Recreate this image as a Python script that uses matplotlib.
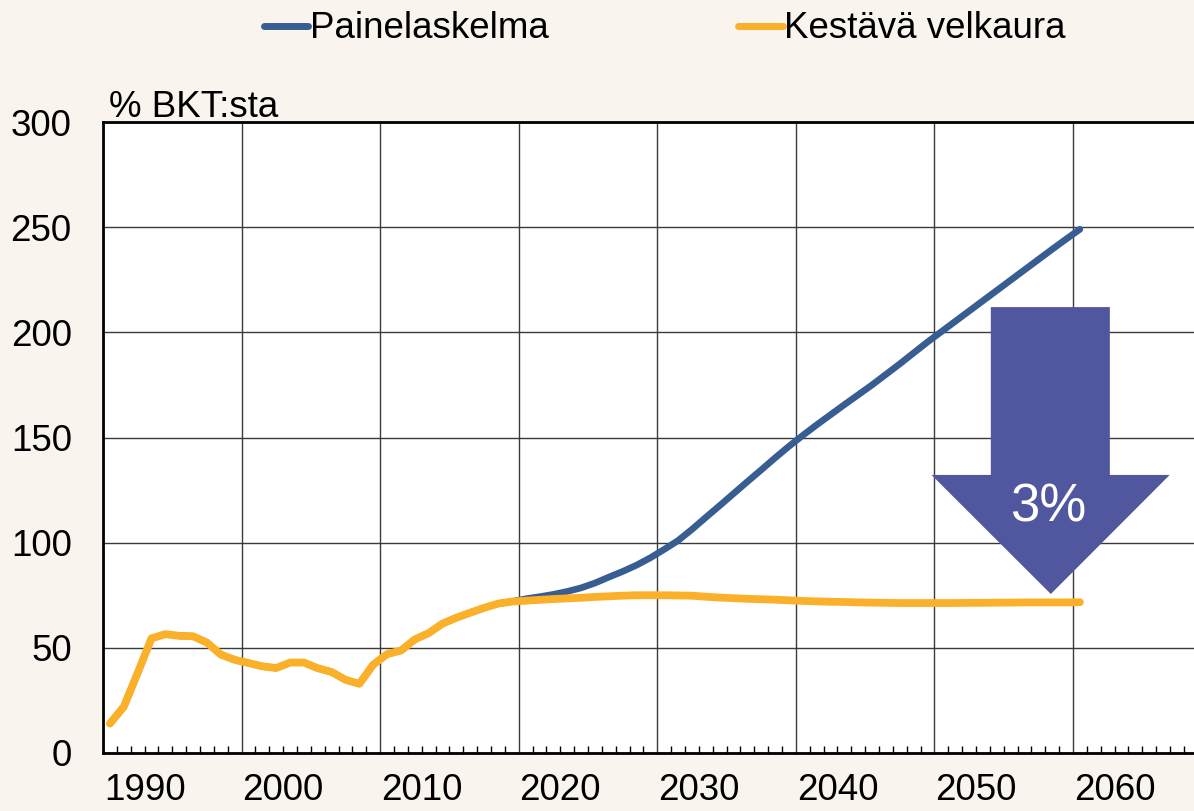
import matplotlib
matplotlib.use('Agg')
import matplotlib.pyplot as plt
import numpy as np
from matplotlib.patches import Polygon
from matplotlib.lines import Line2D
from matplotlib.transforms import ScaledTranslation

plt.rcParams['font.family'] = ['Liberation Sans', 'DejaVu Sans']

# ---- data ----
years = list(range(1990, 2061))
kestava = [
    14.0, 22.0, 38.0, 54.5, 56.5, 55.7, 55.5, 52.5, 46.8, 44.3,   # 1990-1999
    42.8, 41.2, 40.4, 43.0, 43.0, 40.3, 38.5, 34.8, 32.9, 42.0,   # 2000-2009
    47.0, 48.7, 54.0, 57.0, 61.5, 64.3, 66.7, 69.0, 71.0, 72.0,   # 2010-2019
    72.4, 72.8, 73.2, 73.5, 73.8, 74.2, 74.5, 74.8, 75.0, 75.0,   # 2020-2029
    75.0, 74.9, 74.8, 74.3, 73.9, 73.6, 73.3, 73.1, 72.9, 72.6,   # 2030-2039
    72.3, 72.1, 71.9, 71.8, 71.6, 71.5, 71.4, 71.3, 71.3, 71.3,   # 2040-2049
    71.3, 71.3, 71.4, 71.4, 71.5, 71.5, 71.6, 71.6, 71.6, 71.6,   # 2050-2059
    71.7,                                                         # 2060
]
paine_proj = [
    73.3, 74.3, 75.4, 76.8, 78.5, 80.8, 83.6, 86.3, 89.3, 92.8,   # 2020-2029
    96.8, 101.0, 106.3, 112.0, 117.6, 123.3, 129.0, 134.6, 140.3, 145.8,  # 2030-2039
    151.0, 156.0, 160.8, 165.6, 170.3, 175.0, 180.0, 185.0, 190.2, 195.4,  # 2040-2049
    200.3, 205.2, 210.1, 215.0, 219.9, 224.8, 229.7, 234.6, 239.5, 244.3,  # 2050-2059
    249.0,                                                        # 2060
]
painelaskelma = kestava[:30] + paine_proj
series_labels = ['Painelaskelma', 'Kestävä velkaura']
decade_ticks = [1990, 2000, 2010, 2020, 2030, 2040, 2050, 2060]
decade_labels = ['1990', '2000', '2010', '2020', '2030', '2040', '2050', '2060']
y_ticks = [0, 50, 100, 150, 200, 250, 300]
arrow_text = '3%'
unit_label = '% BKT:sta'

# ---- style ----
BG = '#f9f4ee'
BLUE = '#385d92'
ORANGE = '#fbb02a'
ARROW = '#51579f'
GRID = '#3a3a3a'
FS = 26.5

W, H = 1194, 811
fig = plt.figure(figsize=(W / 100, H / 100), dpi=100, facecolor=BG)
ax = fig.add_axes([103 / W, 58 / H, 1 - 103 / W, (753 - 122) / H])
ax.set_facecolor('white')

x = np.array(years) + 0.5  # points centred in their year slot
ax.plot(x, painelaskelma, color=BLUE, lw=4.8, solid_capstyle='round',
        solid_joinstyle='round', zorder=3)
ax.plot(x, kestava, color=ORANGE, lw=5.6, solid_capstyle='round',
        solid_joinstyle='round', zorder=4)

ax.set_xlim(1990, 1990 + (W - 103) / 13.857)
ax.set_ylim(0, 300)

ax.set_xticks(decade_ticks)
ax.set_xticklabels(decade_labels)
ax.set_xticks(np.arange(1990, 2069), minor=True)
ax.set_yticks(y_ticks)
ax.tick_params(axis='x', which='major', direction='in', length=0, pad=14.5,
               labelsize=FS)
ax.tick_params(axis='x', which='minor', direction='in', length=5, width=1,
               color='black')
ax.tick_params(axis='y', which='major', length=0, pad=22.5, labelsize=FS)
offset = ScaledTranslation(3 * 13.857 / 100, 0, fig.dpi_scale_trans)
for lab in ax.get_xticklabels():
    lab.set_transform(lab.get_transform() + offset)

ax.grid(True, which='major', color=GRID, lw=1.0)
for side in ['left', 'bottom', 'top']:
    ax.spines[side].set_linewidth(2.0)
    ax.spines[side].set_color('black')
ax.spines['right'].set_visible(False)

# big down arrow annotation (data coordinates)
arrow_pts = [(2054.07, 212.0), (2062.66, 212.0), (2062.66, 132.2),
             (2066.98, 132.2), (2058.4, 75.6), (2049.79, 132.2),
             (2054.07, 132.2)]
ax.add_patch(Polygon(arrow_pts, closed=True, facecolor=ARROW,
                     edgecolor='none', zorder=5))
ax.text(2058.2, 110, arrow_text, color='white', fontsize=38,
        ha='center', va='baseline', zorder=6)

fig.text(109 / W, 1 - 117 / H, unit_label, fontsize=FS, ha='left',
         va='baseline')

handles = [Line2D([], [], color=BLUE, lw=5, solid_capstyle='round'),
           Line2D([], [], color=ORANGE, lw=5, solid_capstyle='round')]
fig.legend(handles, series_labels, loc='center',
           bbox_to_anchor=(665 / W, 1 - 29 / H), ncol=2, frameon=False,
           fontsize=FS, handlelength=1.2, handletextpad=0.05,
           columnspacing=5.15)

fig.savefig('out.png', dpi=100, facecolor=BG)
